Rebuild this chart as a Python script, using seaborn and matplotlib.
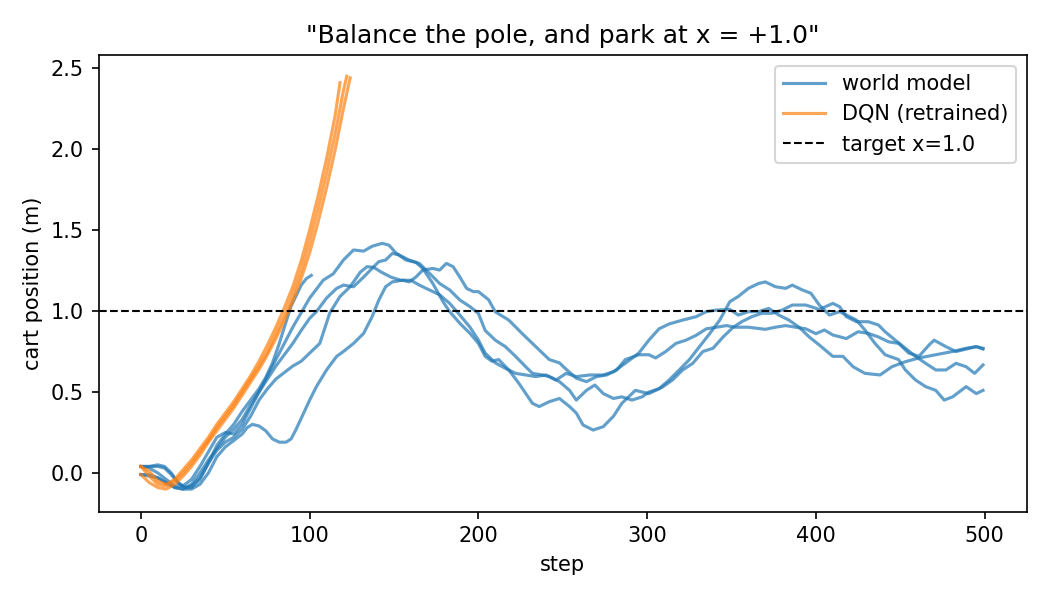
import numpy as np
import pandas as pd
import matplotlib
matplotlib.use("Agg")
import matplotlib.pyplot as plt
from matplotlib.lines import Line2D
import seaborn as sns

# ---------------- data ----------------
wm_a_steps = [0, 5, 10, 14, 18, 22, 26, 30, 35, 40, 45, 50, 55, 60, 65, 70, 74, 78, 82, 85, 89, 95, 98, 101]
wm_a_pos = [0.04, 0.04, 0.05, 0.04, 0.00, -0.06, -0.09, -0.09, -0.04, 0.06, 0.17, 0.24, 0.30, 0.38, 0.45, 0.52,
            0.59, 0.68, 0.80, 0.90, 1.03, 1.16, 1.20, 1.22]

wm_b_steps = [0, 5, 10, 15, 20, 25, 30, 35, 40, 45, 50, 55, 60, 65, 70, 75, 80, 85, 90, 95, 100, 108, 114, 120,
              126, 132, 137, 143, 147, 151, 157, 163, 167, 173, 179, 183, 189, 195, 200, 204, 208, 212, 218, 224,
              232, 236, 242, 248, 254, 258, 262, 268, 274, 280, 285, 293, 301, 309, 315, 321, 327, 333, 339, 345,
              351, 356, 362, 368, 374, 380, 386, 394, 402, 410, 414, 418, 424, 431, 437, 441, 447, 453, 459, 465,
              471, 477, 483, 489, 494, 499]
wm_b_pos = [0.04, 0.03, 0.00, -0.04, -0.08, -0.08, -0.04, 0.04, 0.13, 0.22, 0.25, 0.24, 0.30, 0.40, 0.50, 0.60,
            0.70, 0.80, 0.90, 0.99, 1.08, 1.19, 1.23, 1.315, 1.377, 1.37, 1.40, 1.418, 1.407, 1.36, 1.315, 1.30,
            1.263, 1.17, 1.058, 0.996, 0.924, 0.862, 0.80, 0.72, 0.69, 0.70, 0.636, 0.553, 0.43, 0.41, 0.44, 0.46,
            0.41, 0.37, 0.296, 0.265, 0.286, 0.35, 0.43, 0.51, 0.49, 0.53, 0.574, 0.636, 0.677, 0.75, 0.77, 0.84,
            0.90, 0.934, 0.965, 0.986, 0.986, 1.006, 1.037, 1.037, 1.01, 1.047, 1.027, 0.965, 0.934, 0.934, 0.914,
            0.872, 0.82, 0.77, 0.72, 0.677, 0.636, 0.636, 0.677, 0.656, 0.615, 0.667]

wm_c_steps = [0, 5, 10, 15, 20, 25, 30, 35, 40, 45, 50, 55, 60, 65, 70, 75, 80, 85, 90, 95, 100, 104, 110, 116,
              120, 126, 132, 138, 141, 145, 149, 153, 159, 165, 171, 177, 183, 189, 195, 200, 204, 210, 216, 222,
              228, 232, 238, 242, 248, 254, 258, 264, 269, 274, 280, 285, 291, 297, 301, 307, 313, 319, 325, 331,
              337, 343, 349, 354, 360, 366, 370, 376, 382, 386, 392, 397, 402, 408, 414, 420, 424, 429, 435, 441,
              449, 453, 459, 465, 471, 476, 481, 489, 495, 499]
wm_c_pos = [-0.01, -0.01, -0.03, -0.06, -0.09, -0.10, -0.07, 0.00, 0.08, 0.15, 0.22, 0.27, 0.33, 0.42, 0.50, 0.58,
            0.66, 0.73, 0.80, 0.88, 0.955, 0.996, 1.08, 1.14, 1.16, 1.15, 1.21, 1.274, 1.305, 1.315, 1.356, 1.346,
            1.315, 1.294, 1.233, 1.17, 1.13, 1.068, 1.027, 0.985, 0.88, 0.82, 0.78, 0.72, 0.656, 0.615, 0.605,
            0.595, 0.564, 0.51, 0.45, 0.51, 0.543, 0.49, 0.46, 0.47, 0.45, 0.47, 0.50, 0.52, 0.574, 0.636, 0.70,
            0.78, 0.86, 0.944, 1.058, 1.09, 1.14, 1.17, 1.18, 1.15, 1.14, 1.16, 1.13, 1.11, 1.037, 0.975, 0.996,
            0.965, 0.944, 0.883, 0.80, 0.73, 0.70, 0.636, 0.574, 0.533, 0.51, 0.45, 0.47, 0.533, 0.49, 0.51]

wm_d_steps = [0, 5, 10, 14, 18, 22, 26, 30, 35, 40, 45, 50, 55, 60, 65, 70, 75, 80, 85, 90, 95, 100, 106, 112,
              118, 124, 130, 134, 138, 142, 148, 154, 160, 165, 171, 177, 183, 189, 195, 200, 204, 210, 216, 222,
              228, 234, 240, 246, 252, 258, 266, 274, 280, 287, 295, 298, 301, 307, 313, 321, 329, 335, 341, 349,
              354, 360, 366, 372, 378, 384, 390, 396, 402, 410, 416, 422, 429, 438, 445, 453, 461, 471, 481, 489,
              495, 499]
wm_d_pos = [0.04, 0.04, 0.04, 0.03, -0.01, -0.06, -0.09, -0.08, -0.03, 0.06, 0.14, 0.19, 0.22, 0.27, 0.35, 0.45,
            0.52, 0.58, 0.62, 0.66, 0.69, 0.74, 0.80, 0.99, 1.09, 1.15, 1.24, 1.274, 1.27, 1.243, 1.21, 1.19, 1.19,
            1.16, 1.13, 1.10, 1.047, 0.975, 0.90, 0.82, 0.74, 0.68, 0.646, 0.615, 0.605, 0.595, 0.605, 0.574,
            0.615, 0.595, 0.605, 0.605, 0.625, 0.677, 0.74, 0.78, 0.82, 0.89, 0.92, 0.944, 0.965, 0.996, 1.006,
            1.01, 0.975, 0.996, 0.996, 1.016, 0.975, 0.944, 0.90, 0.84, 0.79, 0.72, 0.72, 0.656, 0.615, 0.605,
            0.656, 0.687, 0.71, 0.73, 0.75, 0.77, 0.78, 0.765]

wm_e_steps = [0, 5, 10, 15, 20, 25, 30, 35, 40, 45, 50, 55, 60, 63, 66, 70, 74, 78, 82, 86, 89, 92, 96, 100, 104,
              110, 116, 120, 126, 132, 137, 141, 145, 149, 155, 159, 163, 167, 173, 177, 181, 185, 189, 193, 197,
              200, 206, 210, 218, 226, 236, 242, 248, 252, 258, 264, 270, 276, 282, 287, 295, 301, 305, 311, 317,
              323, 329, 335, 341, 347, 352, 360, 370, 376, 382, 388, 394, 400, 405, 410, 418, 425, 431, 437, 443,
              449, 455, 461, 467, 470, 477, 483, 491, 495, 499]
wm_e_pos = [-0.01, -0.02, -0.03, -0.06, -0.09, -0.10, -0.10, -0.07, 0.00, 0.10, 0.16, 0.20, 0.24, 0.28, 0.30,
            0.29, 0.26, 0.21, 0.19, 0.19, 0.21, 0.27, 0.36, 0.45, 0.533, 0.636, 0.72, 0.75, 0.80, 0.862, 0.965,
            1.068, 1.15, 1.18, 1.19, 1.18, 1.21, 1.253, 1.263, 1.253, 1.294, 1.274, 1.21, 1.14, 1.12, 1.12, 1.07,
            0.995, 0.944, 0.86, 0.76, 0.70, 0.68, 0.64, 0.585, 0.564, 0.595, 0.605, 0.636, 0.70, 0.73, 0.73, 0.71,
            0.75, 0.80, 0.82, 0.85, 0.89, 0.90, 0.91, 0.90, 0.90, 0.887, 0.90, 0.91, 0.90, 0.89, 0.86, 0.883,
            0.852, 0.83, 0.872, 0.862, 0.84, 0.81, 0.80, 0.74, 0.72, 0.79, 0.82, 0.78, 0.75, 0.77, 0.78, 0.77]

dqn_1_steps = [0, 5, 10, 15, 20, 25, 30, 35, 40, 45, 50, 55, 60, 65, 70, 75, 80, 85, 90, 95, 100, 105, 110, 115, 118]
dqn_1_pos = [0.04, 0.01, -0.05, -0.07, -0.04, 0.02, 0.08, 0.15, 0.22, 0.30, 0.37, 0.44, 0.52, 0.60, 0.69, 0.79,
             0.90, 1.02, 1.15, 1.31, 1.50, 1.71, 1.94, 2.20, 2.41]

dqn_2_steps = [0, 5, 10, 15, 20, 25, 30, 35, 40, 45, 50, 55, 60, 65, 70, 75, 80, 85, 90, 95, 100, 105, 110, 115,
               120, 122]
dqn_2_pos = [0.04, -0.02, -0.07, -0.08, -0.05, 0.00, 0.06, 0.13, 0.20, 0.28, 0.35, 0.42, 0.50, 0.58, 0.66, 0.75,
             0.86, 0.97, 1.10, 1.25, 1.43, 1.63, 1.85, 2.09, 2.36, 2.45]

dqn_3_steps = [0, 5, 10, 15, 20, 25, 30, 35, 40, 45, 50, 55, 60, 65, 70, 75, 80, 85, 90, 95, 100, 105, 110, 115,
               120, 124]
dqn_3_pos = [-0.01, -0.06, -0.09, -0.10, -0.07, -0.02, 0.04, 0.11, 0.19, 0.26, 0.33, 0.40, 0.48, 0.56, 0.64, 0.73,
             0.83, 0.94, 1.06, 1.20, 1.36, 1.55, 1.76, 1.99, 2.25, 2.44]

target_x = 1.0
policy_labels = ["world model", "DQN (retrained)"]

# ---------------- build long-form table ----------------
frames = []
for run, (s, p) in enumerate([(wm_a_steps, wm_a_pos), (wm_b_steps, wm_b_pos), (wm_c_steps, wm_c_pos),
                              (wm_d_steps, wm_d_pos), (wm_e_steps, wm_e_pos)]):
    frames.append(pd.DataFrame({"step": s, "pos": p, "policy": policy_labels[0], "run": f"wm{run}"}))
for run, (s, p) in enumerate([(dqn_1_steps, dqn_1_pos), (dqn_2_steps, dqn_2_pos), (dqn_3_steps, dqn_3_pos)]):
    frames.append(pd.DataFrame({"step": s, "pos": p, "policy": policy_labels[1], "run": f"dqn{run}"}))
df = pd.concat(frames, ignore_index=True)

blue = "#1f77b4"
orange = "#ff7f0e"

fig, ax = plt.subplots(figsize=(7, 4), dpi=150)
fig.subplots_adjust(left=0.094, right=0.978, bottom=0.147, top=0.908)

sns.lineplot(data=df[df.policy == policy_labels[0]], x="step", y="pos", units="run", estimator=None,
             color=blue, alpha=0.7, linewidth=1.5, sort=False, legend=False, ax=ax)
sns.lineplot(data=df[df.policy == policy_labels[1]], x="step", y="pos", units="run", estimator=None,
             color=orange, alpha=0.7, linewidth=1.5, sort=False, legend=False, ax=ax)
ax.axhline(target_x, color="black", linestyle="--", linewidth=1.0)

ax.set_xlim(-25, 525)
ax.set_ylim(-0.24, 2.58)
ax.set_title('"Balance the pole, and park at x = +1.0"')
ax.set_xlabel("step")
ax.set_ylabel("cart position (m)")

handles = [Line2D([], [], color=blue, alpha=0.7, linewidth=1.5),
           Line2D([], [], color=orange, alpha=0.7, linewidth=1.5),
           Line2D([], [], color="black", linestyle="--", linewidth=1.0)]
ax.legend(handles, policy_labels + [f"target x={target_x}"], loc="upper right")

fig.savefig("out.png", dpi=150)
